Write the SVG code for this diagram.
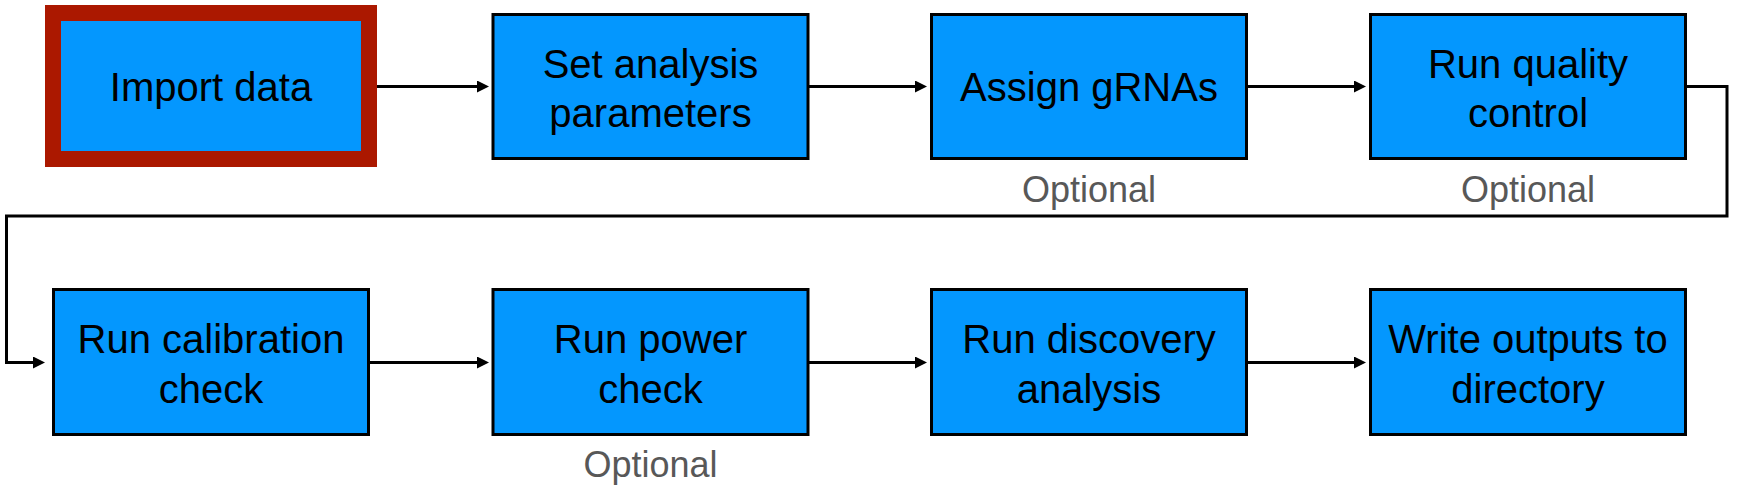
<svg xmlns="http://www.w3.org/2000/svg" width="1738" height="492" viewBox="0 0 1738 492">
<style>
.box{fill:#0497FE;stroke:#000;stroke-width:3}
.start{fill:#0497FE;stroke:#AB1800;stroke-width:16}
.lbl{font-family:"Liberation Sans",Arial,Helvetica,sans-serif;font-size:40px;fill:#000;text-anchor:middle}
.opt{font-family:"Liberation Sans",Arial,Helvetica,sans-serif;font-size:36px;fill:#585858;text-anchor:middle}
.conn{fill:none;stroke:#000;stroke-width:3}
</style>
<defs>
<marker id="ah" markerUnits="userSpaceOnUse" markerWidth="12" markerHeight="12" refX="6" refY="6" orient="auto">
<path d="M0,0 L12,6 L0,12 z" fill="#000"/>
</marker>
</defs>
<rect width="1738" height="492" fill="#fff"/>
<g id="connectors">
<path class="conn" d="M377,86.5 H483" marker-end="url(#ah)"/>
<path class="conn" d="M809,86.5 H921" marker-end="url(#ah)"/>
<path class="conn" d="M1247,86.5 H1360" marker-end="url(#ah)"/>
<path class="conn" d="M1687,86.5 H1727 V216 H6.5 V362.5 H39" marker-end="url(#ah)"/>
<path class="conn" d="M370,362.5 H483" marker-end="url(#ah)"/>
<path class="conn" d="M809,362.5 H921" marker-end="url(#ah)"/>
<path class="conn" d="M1247,362.5 H1360" marker-end="url(#ah)"/>
</g>
<g id="import-data">
<rect class="start" x="53" y="13" width="316" height="146"/>
<text class="lbl" x="211" y="100.5">Import data</text>
</g>
<g id="set-analysis-parameters">
<rect class="box" x="493" y="14.5" width="315" height="144"/>
<text class="lbl" x="650.5" y="77.5">Set analysis</text>
<text class="lbl" x="650.5" y="126.5">parameters</text>
</g>
<g id="assign-grnas">
<rect class="box" x="931.5" y="14.5" width="315" height="144"/>
<text class="lbl" x="1089" y="100.5">Assign gRNAs</text>
<text class="opt" x="1089" y="202">Optional</text>
</g>
<g id="run-quality-control">
<rect class="box" x="1370.5" y="14.5" width="315" height="144"/>
<text class="lbl" x="1528" y="77.5">Run quality</text>
<text class="lbl" x="1528" y="126.5">control</text>
<text class="opt" x="1528" y="202">Optional</text>
</g>
<g id="run-calibration-check">
<rect class="box" x="53.5" y="289.5" width="315" height="145"/>
<text class="lbl" x="211" y="353">Run calibration</text>
<text class="lbl" x="211" y="402.5">check</text>
</g>
<g id="run-power-check">
<rect class="box" x="493" y="289.5" width="315" height="145"/>
<text class="lbl" x="650.5" y="353">Run power</text>
<text class="lbl" x="650.5" y="402.5">check</text>
<text class="opt" x="650.5" y="477">Optional</text>
</g>
<g id="run-discovery-analysis">
<rect class="box" x="931.5" y="289.5" width="315" height="145"/>
<text class="lbl" x="1089" y="353">Run discovery</text>
<text class="lbl" x="1089" y="402.5">analysis</text>
</g>
<g id="write-outputs">
<rect class="box" x="1370.5" y="289.5" width="315" height="145"/>
<text class="lbl" x="1528" y="353">Write outputs to</text>
<text class="lbl" x="1528" y="402.5">directory</text>
</g>
</svg>
